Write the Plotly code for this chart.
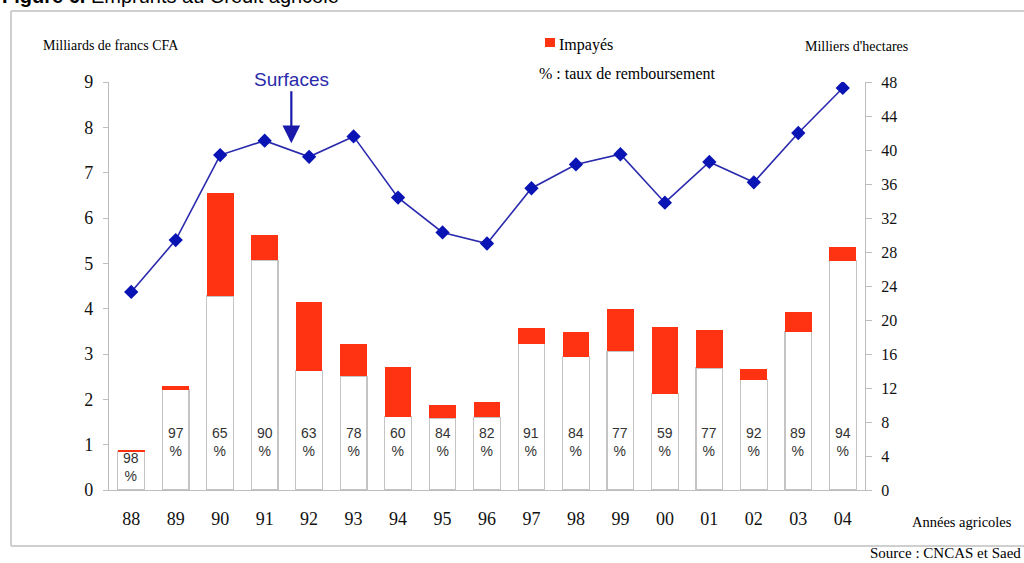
import plotly.graph_objects as go

years = ["88", "89", "90", "91", "92", "93", "94", "95", "96", "97", "98", "99", "00", "01", "02", "03", "04"]
rembourse = [0.85, 2.21, 4.28, 5.07, 2.63, 2.51, 1.62, 1.58, 1.60, 3.23, 2.94, 3.06, 2.12, 2.69, 2.43, 3.49, 5.06]
impayes = [0.03, 0.09, 2.27, 0.56, 1.52, 0.71, 1.09, 0.29, 0.34, 0.35, 0.55, 0.93, 1.47, 0.83, 0.24, 0.43, 0.30]
surfaces = [23.3, 29.4, 39.4, 41.1, 39.2, 41.6, 34.4, 30.3, 29.0, 35.5, 38.3, 39.5, 33.8, 38.6, 36.2, 42.0, 47.3]
taux = [98, 97, 65, 90, 63, 78, 60, 84, 82, 91, 84, 77, 59, 77, 92, 89, 94]

SERIF = "Liberation Serif, Times New Roman, serif"
SANS = "Liberation Sans, Arial, sans-serif"

# plot area in pixels
L, R, T, B = 109, 865, 82, 490
W, H = 1024, 563
def px(x):
    return (x - L) / (R - L)
def py(y):
    return (B - y) / (B - T)

fig = go.Figure()
fig.add_trace(go.Bar(x=years, y=rembourse, marker=dict(color="white", line=dict(color="#C4C4C4", width=1.2)),
                     width=0.6, showlegend=False, hoverinfo="skip"))
fig.add_trace(go.Bar(x=years, y=impayes, name="Impayés", marker=dict(color="#FF3311", line=dict(width=0)),
                     width=0.6, showlegend=False))
fig.add_trace(go.Scatter(x=years, y=surfaces, yaxis="y2", mode="lines+markers",
                         line=dict(color="#2A2AAE", width=1.6),
                         marker=dict(symbol="diamond", size=11, color="#0A14B4"),
                         showlegend=False, name="Surfaces"))

annotations = []
for i, t in enumerate(taux):
    ypos = 0.5 if i == 0 else 1.05
    annotations.append(dict(x=i, y=ypos, xref="x", yref="y", text=f"{t}<br>%", showarrow=False,
                            font=dict(family=SANS, size=14, color="#333333")))

annotations += [
    dict(x=3.6, y=40.8, xref="x", yref="y2", text="Surfaces", showarrow=True, arrowhead=2,
         arrowsize=1.6, arrowwidth=2.2, arrowcolor="#1A1AAA", ax=0, ay=-64,
         font=dict(family=SANS, size=19, color="#2A2AAA")),
    dict(x=px(41), y=py(45), xref="paper", yref="paper", text="Milliards de francs CFA", showarrow=False,
         xanchor="left", yanchor="middle", font=dict(family=SERIF, size=14, color="#000000")),
    dict(x=px(803), y=py(46), xref="paper", yref="paper", text="Milliers d'hectares", showarrow=False,
         xanchor="left", yanchor="middle", font=dict(family=SERIF, size=14, color="#000000")),
    dict(x=px(910), y=py(522), xref="paper", yref="paper", text="Années agricoles", showarrow=False,
         xanchor="left", yanchor="middle", font=dict(family=SERIF, size=14.5, color="#000000")),
    dict(x=px(557), y=py(45), xref="paper", yref="paper", text="Impayés", showarrow=False,
         xanchor="left", yanchor="middle", font=dict(family=SERIF, size=16, color="#000000")),
    dict(x=px(537), y=py(73), xref="paper", yref="paper", text="% : taux de remboursement", showarrow=False,
         xanchor="left", yanchor="middle", font=dict(family=SERIF, size=16, color="#000000")),
    dict(x=px(1023), y=py(563), xref="paper", yref="paper", text="Source : CNCAS et Saed", showarrow=False,
         xanchor="right", yanchor="bottom", font=dict(family=SERIF, size=15, color="#000000")),
    dict(x=px(0), y=py(9), xref="paper", yref="paper",
         text="<b>Figure 6.</b> Emprunts au Crédit agricole", showarrow=False,
         xanchor="left", yanchor="bottom", font=dict(family=SANS, size=20, color="#000000")),
]

shapes = [
    dict(type="rect", xref="paper", yref="paper", x0=px(545), x1=px(555), y0=py(38), y1=py(47),
         fillcolor="#FF3311", line=dict(width=0)),
    dict(type="line", xref="paper", yref="paper", x0=px(11), x1=px(11), y0=py(11), y1=py(546),
         line=dict(color="#CFCFCF", width=2)),
    dict(type="line", xref="paper", yref="paper", x0=px(11), x1=px(1030), y0=py(11), y1=py(11),
         line=dict(color="#CFCFCF", width=2)),
    dict(type="line", xref="paper", yref="paper", x0=px(11), x1=px(1030), y0=py(546), y1=py(546),
         line=dict(color="#CFCFCF", width=2)),
]

fig.update_layout(
    width=W, height=H,
    margin=dict(l=L, r=W - R, t=T, b=H - B, pad=0),
    paper_bgcolor="white", plot_bgcolor="white",
    barmode="stack", bargap=0.4,
    xaxis=dict(type="category", range=[-0.5, 16.5], showgrid=False, showline=True, linecolor="#BDBDBD",
               linewidth=1.2, ticks="", ticklabelstandoff=12,
               tickfont=dict(family=SERIF, size=18, color="#111111"), zeroline=False),
    yaxis=dict(range=[0, 9], dtick=1, showgrid=False, showline=True, linecolor="#BDBDBD", linewidth=1.2,
               ticks="outside", ticklen=5, tickcolor="#BDBDBD", ticklabelstandoff=6,
               tickfont=dict(family=SERIF, size=18, color="#111111"), zeroline=False),
    yaxis2=dict(range=[0, 48], dtick=4, overlaying="y", side="right", showgrid=False, showline=True,
                linecolor="#BDBDBD", linewidth=1.2, ticks="outside", ticklen=6, tickcolor="#BDBDBD",
                ticklabelstandoff=6, tickfont=dict(family=SERIF, size=16, color="#111111"), zeroline=False),
    annotations=annotations,
    shapes=shapes,
)

fig.write_html("out.html", config={"displayModeBar": False},
               post_script="document.body.style.margin='0px';document.body.style.overflow='hidden';")
